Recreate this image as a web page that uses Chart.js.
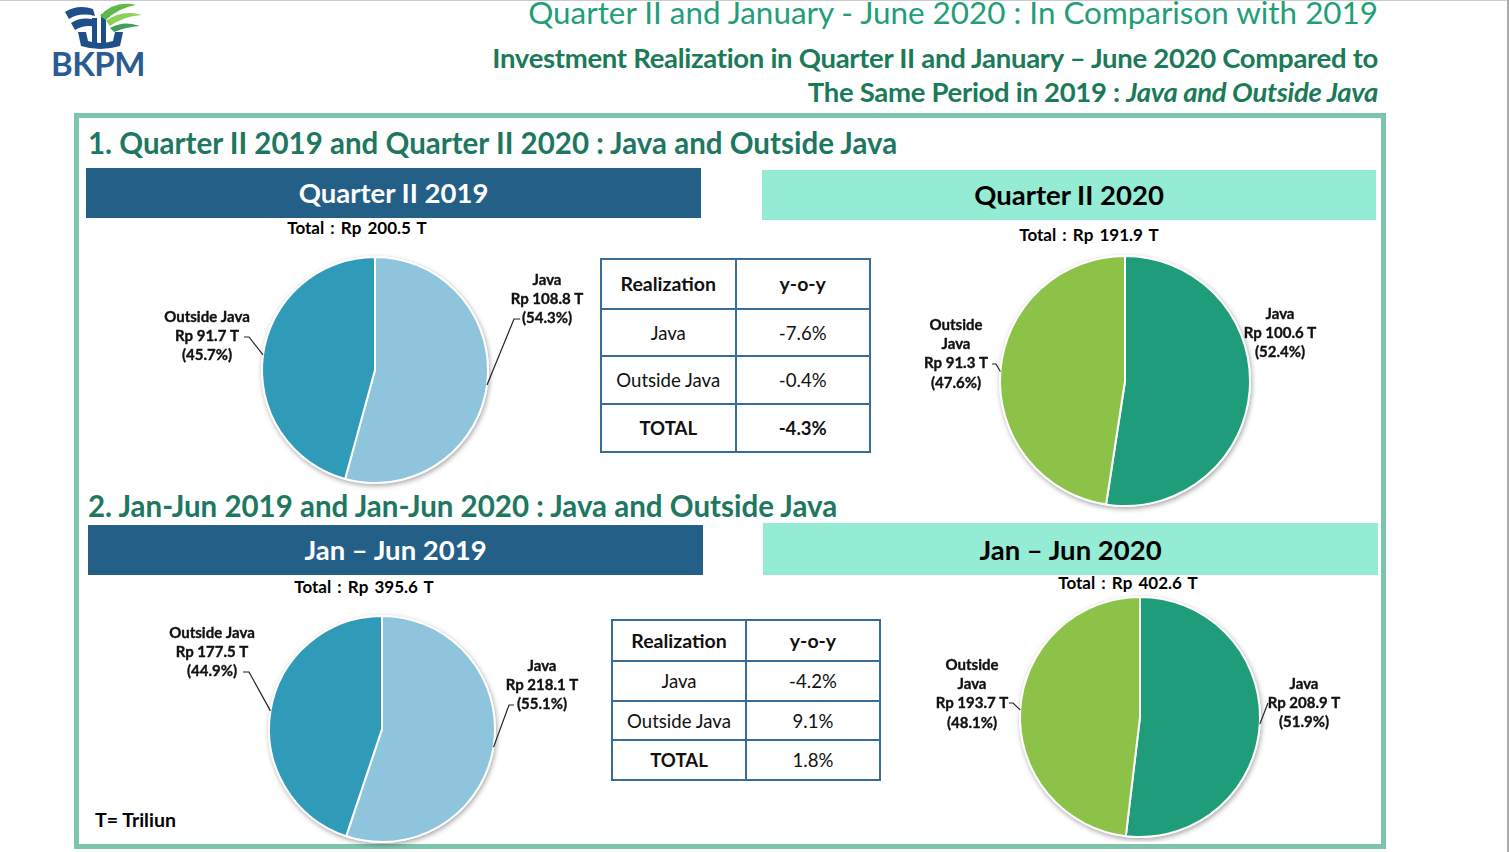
<!DOCTYPE html>
<html>
<head>
<meta charset="utf-8">
<script src="https://cdn.jsdelivr.net/npm/chart.js@4"></script>
<style>
  body { margin: 0; width: 1509px; height: 852px; background: #fff; position: relative; overflow: hidden;
         font-family: Lato, "Open Sans", sans-serif; }
  .abs { position: absolute; }
  .box { left: 74px; top: 113px; width: 1302px; height: 726px; border: 5px solid #7cc5ad; }
  .title { right: 131px; top: -7px; font-size: 31.4px; color: #1f9e78; white-space: nowrap; }
  .sub { right: 131px; font-size: 27.5px; font-weight: bold; color: #1b7a58; white-space: nowrap; letter-spacing: -0.3px; }
  .sec { left: 88px; font-size: 29.5px; font-weight: bold; color: #1e7761; white-space: nowrap; }
  .bar { height: 50px; line-height: 50px; text-align: center; font-size: 27.5px; font-weight: bold; }
  .dark { background: #235f86; color: #fff; }
  .mint { background: #93ecd3; color: #000; }
  .total { font-size: 17px; font-weight: bold; color: #000; white-space: nowrap; word-spacing: 2px; transform: translateX(-50%); }
  table { position: absolute; border-collapse: collapse; font-size: 18.6px; color: #111; }
  td { border: 2px solid #386d98; text-align: center; padding: 0; }
  th { border: 2px solid #386d98; text-align: center; padding: 0; font-weight: bold; font-size: 19.5px; }
  canvas { position: absolute; }
</style>
</head>
<body>
<div class="abs" style="left:0;top:0;width:1509px;height:1px;background:#ccc"></div>
<div class="abs" style="right:0;top:0;width:2px;height:852px;background:#aaa"></div>

<svg class="abs" style="left:48px;top:0px" width="110" height="82" viewBox="0 0 110 82">
  <path d="M17 12 Q30 4 45 9 L47 16 Q32 12 21 19 Z" fill="#1f4f8a"/>
  <path d="M23 23 Q34 16 47 20 L48 27 Q37 24 27 30 Z" fill="#1f4f8a"/>
  <path d="M30 32 L33 46 Q52 52 72 46 L75 32 L67 32 L65 41 Q52 45 40 41 L38 32 Z" fill="#1f4f8a"/>
  <rect x="44" y="18" width="5" height="25" fill="#1f4f8a"/>
  <rect x="53" y="14" width="5" height="30" fill="#1f4f8a"/>
  <path d="M52 16 Q66 0 88 5 Q70 8 58 20 Z" fill="#5fb84a"/>
  <path d="M58 21 Q74 9 94 15 Q76 16 62 26 Z" fill="#8ccf5a"/>
  <path d="M62 28 Q76 20 92 26 Q78 27 66 32 Z" fill="#3f9f5a"/>
  <text x="3" y="76" font-family="Lato, sans-serif" font-size="33" font-weight="bold" fill="#2a5b93" letter-spacing="-0.5">BKPM</text>
</svg>

<div class="abs title">Quarter II and January - June 2020 : In Comparison with 2019</div>
<div class="abs sub" style="top:41px">Investment Realization in Quarter II and January – June 2020 Compared to</div>
<div class="abs sub" style="top:75px">The Same Period in 2019 : <i>Java and Outside Java</i></div>

<div class="abs box"></div>

<div class="abs sec" style="top:125px">1. Quarter II 2019 and Quarter II 2020 : Java and Outside Java</div>
<div class="abs sec" style="top:488px">2. Jan-Jun 2019 and Jan-Jun 2020 : Java and Outside Java</div>

<div class="abs bar dark" style="left:86px;top:168px;width:615px">Quarter II 2019</div>
<div class="abs bar mint" style="left:762px;top:170px;width:614px">Quarter II 2020</div>
<div class="abs bar dark" style="left:88px;top:525px;width:615px">Jan – Jun 2019</div>
<div class="abs bar mint" style="left:763px;top:523px;width:615px;height:52px;line-height:54px">Jan – Jun 2020</div>

<div class="abs total" id="t1" style="left:357px;top:217px"></div>
<div class="abs total" id="t2" style="left:1089px;top:224px"></div>
<div class="abs total" id="t3" style="left:364px;top:576px"></div>
<div class="abs total" id="t4" style="left:1128px;top:572px"></div>

<table id="tab1" style="left:600px;top:258px;width:271px;height:195px"></table>
<table id="tab2" style="left:611px;top:619px;width:270px;height:162px"></table>

<div class="abs" style="left:95px;top:808px;font-size:19.5px;font-weight:bold;color:#000">T= Triliun</div>

<canvas id="pie1" width="460" height="250" style="left:145px;top:245px"></canvas>
<canvas id="pie2" width="440" height="270" style="left:905px;top:246px"></canvas>
<canvas id="pie3" width="460" height="240" style="left:152px;top:609px"></canvas>
<canvas id="pie4" width="440" height="250" style="left:920px;top:592px"></canvas>

<script>
// data
const regions = ['Java', 'Outside Java'];
const q2_2019 = [108.8, 91.7];
const q2_2020 = [100.6, 91.3];
const h1_2019 = [218.1, 177.5];
const h1_2020 = [208.9, 193.7];
const tableRows = ['Java', 'Outside Java', 'TOTAL'];
const q2Yoy = ['-7.6%', '-0.4%', '-4.3%'];
const h1Yoy = ['-4.2%', '9.1%', '1.8%'];

const colors2019 = ['#8ec5dc', '#309bb8'];
const colors2020 = ['#1f9c7a', '#8cc247'];

function sum(arr) { return arr.reduce((a, b) => a + b, 0); }

document.getElementById('t1').textContent = 'Total : Rp ' + sum(q2_2019).toFixed(1) + ' T';
document.getElementById('t2').textContent = 'Total : Rp ' + sum(q2_2020).toFixed(1) + ' T';
document.getElementById('t3').textContent = 'Total : Rp ' + sum(h1_2019).toFixed(1) + ' T';
document.getElementById('t4').textContent = 'Total : Rp ' + sum(h1_2020).toFixed(1) + ' T';

function buildTable(id, yoy, boldTotalValue) {
    var t = document.getElementById(id);
    var html = '<tr><th style="width:50%">Realization</th><th>y-o-y</th></tr>';
    tableRows.forEach(function (r, i) {
        var isTotal = i === tableRows.length - 1;
        html += '<tr><td' + (isTotal ? ' style="font-weight:bold"' : '') + '>' + r + '</td>' +
            '<td' + (isTotal && boldTotalValue ? ' style="font-weight:bold"' : '') + '>' + yoy[i] + '</td></tr>';
    });
    t.innerHTML = html;
}
buildTable('tab1', q2Yoy, true);
buildTable('tab2', h1Yoy, false);

// labels + leader lines + soft shadow behind the pie
const pieLabels = {
    id: 'pieLabels',
    beforeDatasetsDraw(chart) {
        const arc = chart.getDatasetMeta(0).data[0];
        const p = arc.getProps(['x', 'y', 'outerRadius'], true);
        const ctx = chart.ctx;
        ctx.save();
        ctx.shadowColor = 'rgba(0,0,0,0.35)';
        ctx.shadowBlur = 5;
        ctx.shadowOffsetX = 1;
        ctx.shadowOffsetY = 2;
        ctx.fillStyle = '#fff';
        ctx.beginPath();
        ctx.arc(p.x, p.y, p.outerRadius + 1, 0, Math.PI * 2);
        ctx.fill();
        ctx.restore();
    },
    afterDatasetsDraw(chart, args, opts) {
        const ctx = chart.ctx;
        const data = chart.data.datasets[0].data;
        const total = sum(data);
        chart.getDatasetMeta(0).data.forEach(function (arc, i) {
            const p = arc.getProps(['x', 'y', 'startAngle', 'endAngle', 'outerRadius'], true);
            const mid = (p.startAngle + p.endAngle) / 2;
            const ex = p.x + Math.cos(mid) * p.outerRadius;
            const ey = p.y + Math.sin(mid) * p.outerRadius;
            const lab = opts.labels[i];
            const name = chart.data.labels[i];
            const lines = (lab.split ? name.split(' ') : [name])
                .concat(['Rp ' + data[i].toFixed(1) + ' T', '(' + (data[i] / total * 100).toFixed(1) + '%)']);
            ctx.save();
            ctx.font = 'bold 15px Lato, "Open Sans", sans-serif';
            ctx.fillStyle = '#111';
            ctx.strokeStyle = '#111';
            ctx.lineWidth = 0.35;
            ctx.textAlign = 'center';
            ctx.textBaseline = 'middle';
            lines.forEach(function (t, k) {
                ctx.fillText(t, p.x + lab.dx, p.y + lab.dy + k * 19.3);
                ctx.strokeText(t, p.x + lab.dx, p.y + lab.dy + k * 19.3);
            });
            if (lab.leader) {
                ctx.strokeStyle = '#222';
                ctx.lineWidth = 1.2;
                ctx.beginPath();
                ctx.moveTo(p.x + lab.leader[0], p.y + lab.leader[1]);
                ctx.lineTo(p.x + lab.leader[2], p.y + lab.leader[1]);
                ctx.lineTo(ex, ey);
                ctx.stroke();
            }
            ctx.restore();
        });
    }
};

function renderPie(canvasId, values, colors, radius, labels) {
    return new Chart(document.getElementById(canvasId), {
        type: 'pie',
        data: {
            labels: regions,
            datasets: [{
                data: values,
                backgroundColor: colors,
                borderColor: '#fff',
                borderWidth: 2
            }]
        },
        options: {
            responsive: false,
            animation: false,
            events: [],
            radius: radius,
            layout: { padding: 0 },
            plugins: {
                legend: { display: false },
                tooltip: { enabled: false },
                pieLabels: { labels: labels }
            }
        },
        plugins: [pieLabels]
    });
}

renderPie('pie1', q2_2019, colors2019, 113, [
    { dx: 172, dy: -90, leader: [145, -51, 139] },
    { dx: -168, dy: -53, leader: [-131, -33, -126] }
]);
renderPie('pie2', q2_2020, colors2020, 125, [
    { dx: 155, dy: -67, leader: null },
    { dx: -169, dy: -56, split: true, leader: [-133, -17, -129] }
]);
renderPie('pie3', h1_2019, colors2019, 113, [
    { dx: 160, dy: -63, leader: [132, -24, 127] },
    { dx: -170, dy: -96, leader: [-139, -57, -133] }
]);
renderPie('pie4', h1_2020, colors2020, 120, [
    { dx: 164, dy: -33, leader: [128, -14, 128] },
    { dx: -168, dy: -52, split: true, leader: [-131, -14, -127] }
]);
</script>
</body>
</html>
